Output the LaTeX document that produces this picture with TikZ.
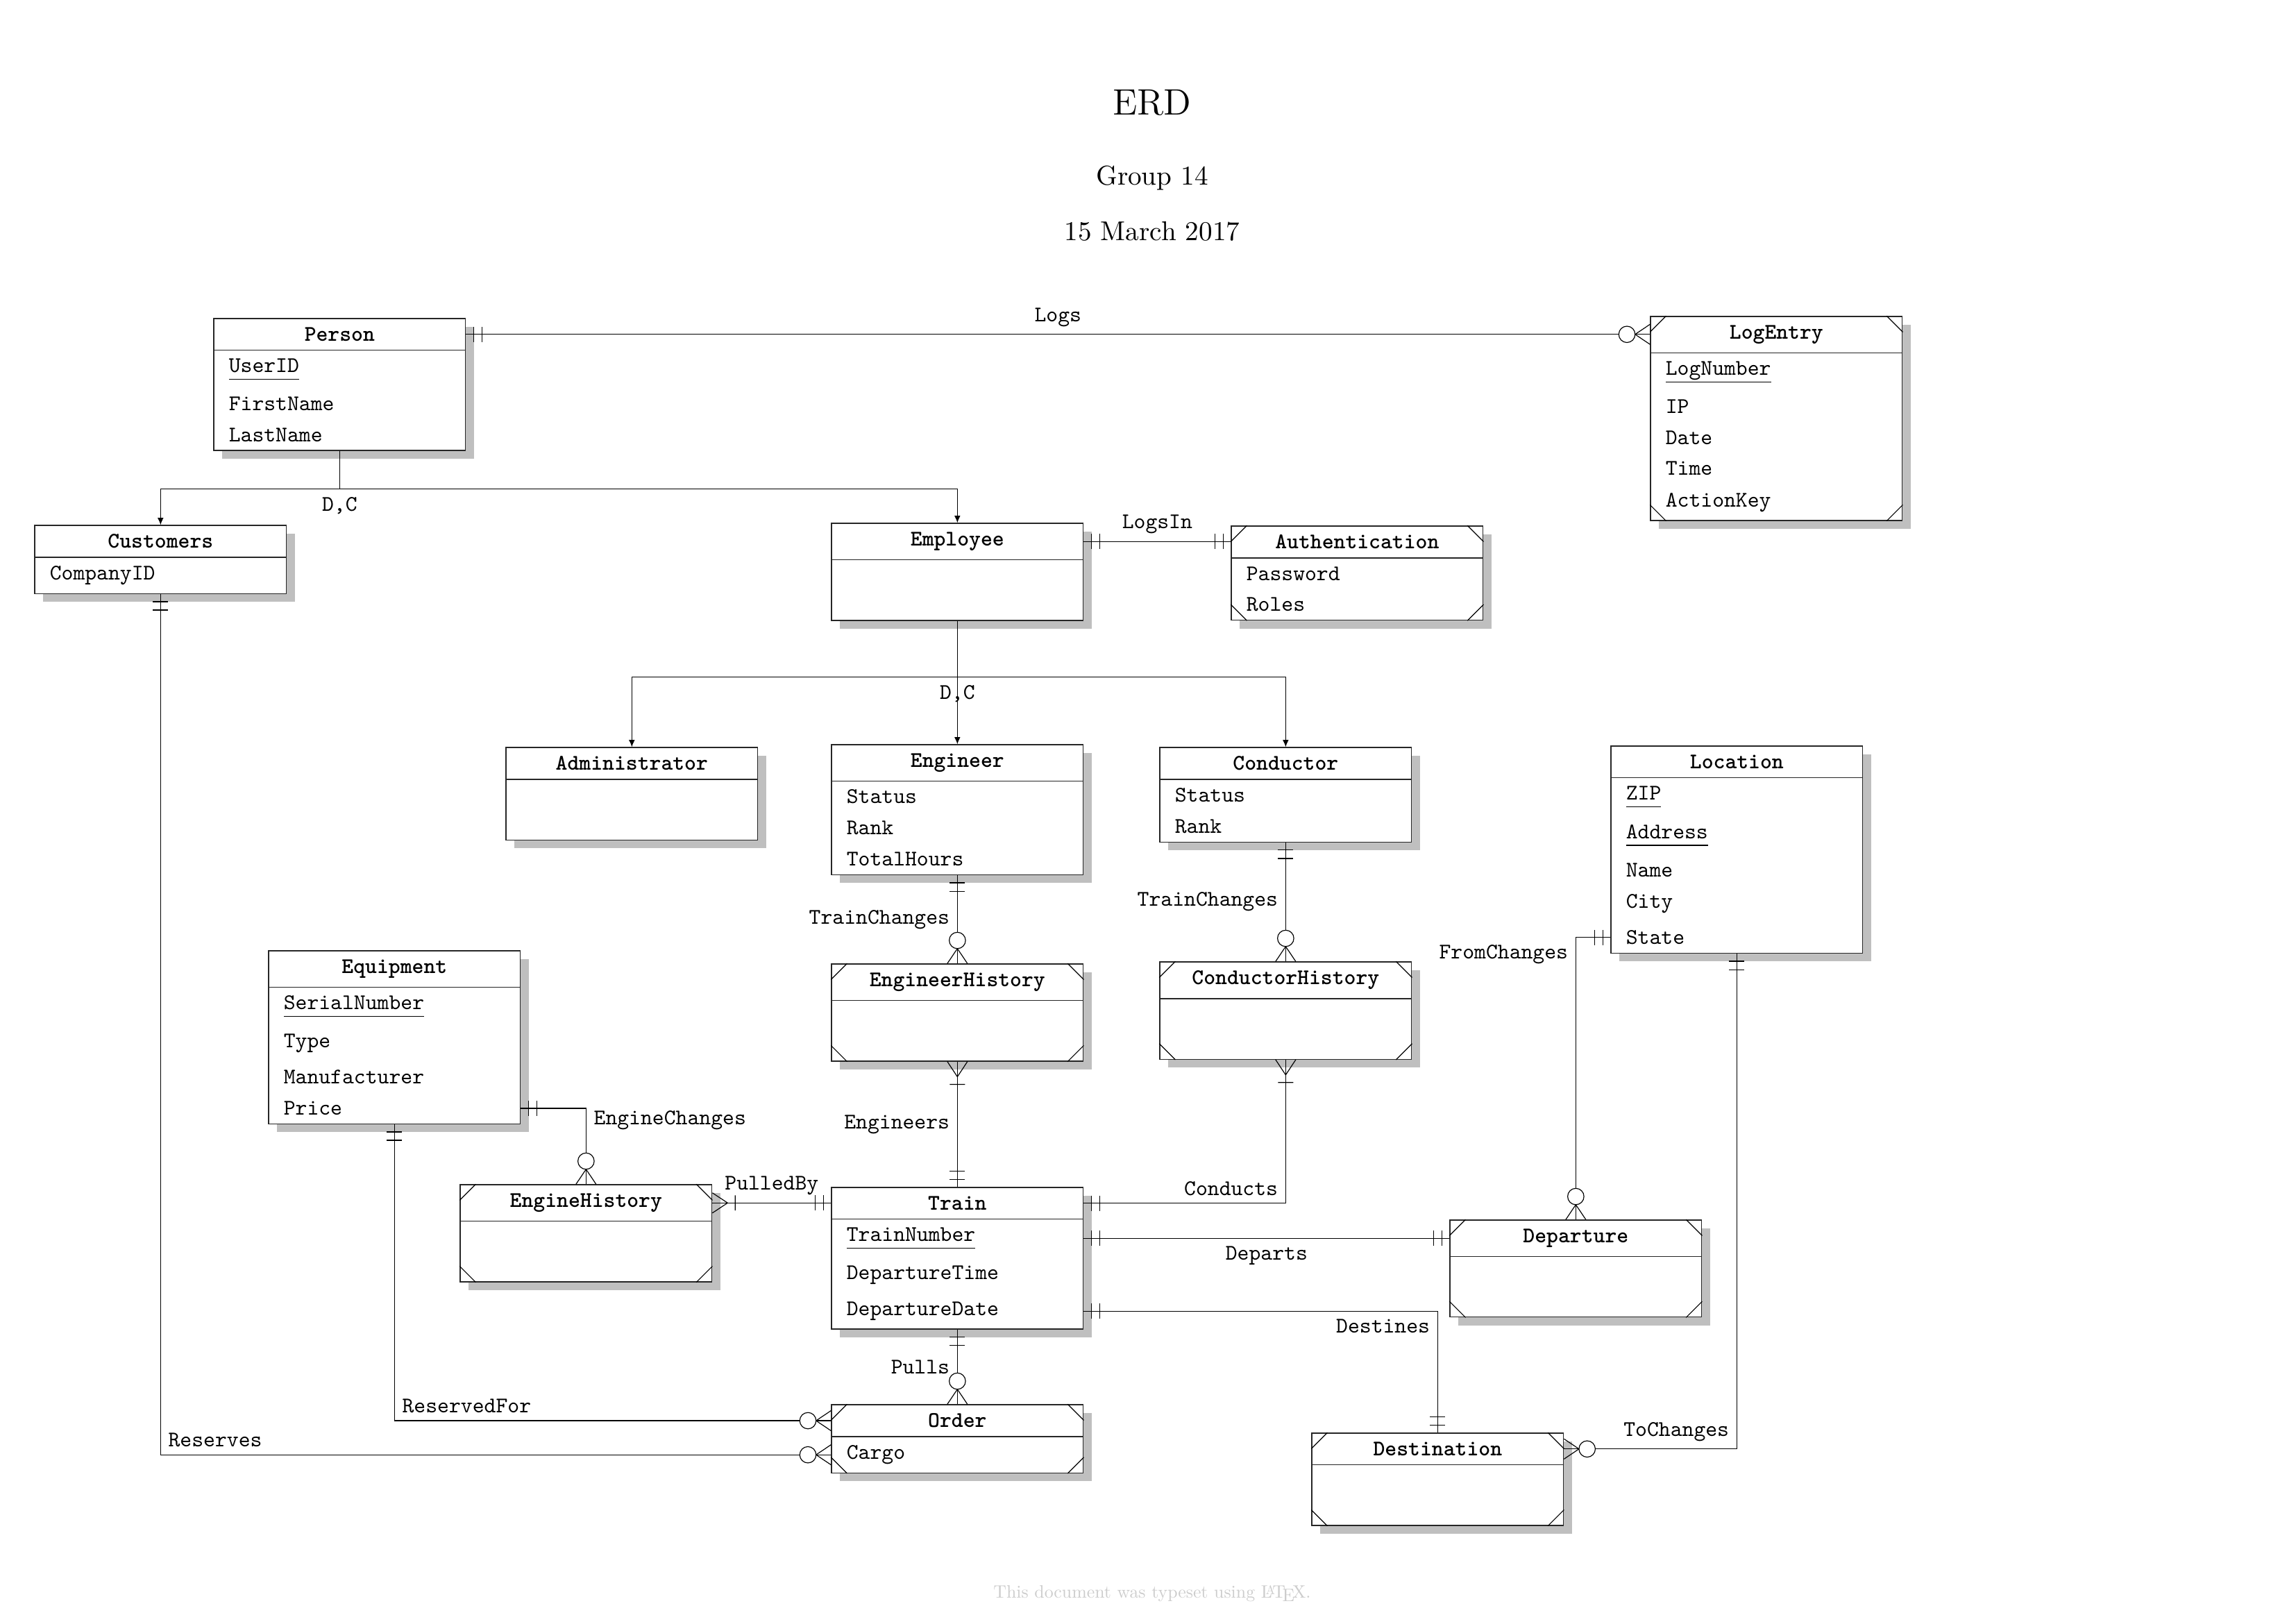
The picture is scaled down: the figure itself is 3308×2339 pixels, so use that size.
\documentclass[tikz,border=0pt]{standalone}
\usepackage{fontspec}
\newfontfamily\erfont{lmmono10-regular.otf}
\newfontfamily\erbold{lmmonolt10-bold.otf}
\newfontfamily\footfont{lmroman10-regular.otf}
\usetikzlibrary{positioning,fit,shadows,backgrounds,arrows.meta,decorations.markings}

\newcommand{\keyattr}[1]{\setbox0=\hbox{#1}\rlap{\rule[-2.7pt]{\wd0}{0.4pt}}\box0}

\tikzset{
  ent/.style={minimum width=3.24cm, inner xsep=0pt, inner ysep=3.08pt, anchor=north west, font=\erbold\fontsize{8.2}{10}\selectfont},
  attr/.style={inner xsep=5.36pt, inner ysep=2.98pt, font=\erfont\fontsize{8.2}{10}\selectfont},
  row/.style={attr, below=0pt of #1.south west, anchor=north west},
  nobody/.style={minimum height=0.77cm},
  entbox/.style={draw=black!85, line width=0.35pt, fill=white, inner sep=0pt, drop shadow={shadow xshift=3.07pt, shadow yshift=-3.07pt, fill=black!25, opacity=1}},
  sep/.style={draw=black!85, line width=0.35pt},
  corner/.style={line width=0.3pt},
  lbl/.style={inner sep=2.73pt, font=\erfont\fontsize{8.2}{10}\selectfont},
  conn/.style={line width=0.3pt},
  isa/.style={conn, -{Latex[length=2.6pt, width=2.2pt]}},
  one start/.style={postaction={decorate, decoration={markings, mark=at position 0 with {\draw[conn] (2.8pt,-2.8pt) -- (2.8pt,2.8pt) (5.9pt,-2.8pt) -- (5.9pt,2.8pt);}}}},
  one end/.style={postaction={decorate, decoration={markings, mark=at position 1 with {\draw[conn] (-2.8pt,-2.8pt) -- (-2.8pt,2.8pt) (-5.9pt,-2.8pt) -- (-5.9pt,2.8pt);}}}},
  omany start/.style={postaction={decorate, decoration={markings, mark=at position 0 with {\draw[conn] (0pt,3.7pt) -- (5.6pt,0pt) -- (0pt,-3.7pt) (8.4pt,-2.8pt) -- (8.4pt,2.8pt);}}}},
  zmany end/.style={postaction={decorate, decoration={markings, mark=at position 1 with {\draw[conn] (0pt,3.7pt) -- (-5.5pt,0pt) -- (0pt,-3.7pt); \draw[conn, fill=white] (-8.5pt,0pt) circle (3pt);}}}}
}

\begin{document}
\begin{tikzpicture}[x=0.0089782cm, y=-0.0089782cm]
\useasboundingbox (0,0) rectangle (3308,2339);

% title block
\node[anchor=base, font=\fontsize{13.5}{16}\selectfont] (erd) at (1660,165) {ERD};
\node[anchor=base, font=\fontsize{10}{12}\selectfont] (group) at (1660,266) {Group 14};
\node[anchor=base, font=\fontsize{10}{12}\selectfont] (date) at (1660,346) {15 March 2017};

% entities
\node[ent] (person-h) at (308,459) {Person};
\node[row=person-h] (person-1) {\keyattr{UserID}};
\node[row=person-1] (person-2) {FirstName};
\node[row=person-2] (person-3) {LastName};

\node[ent] (logentry-h) at (2378,456) {LogEntry};
\node[row=logentry-h] (logentry-1) {\keyattr{LogNumber}};
\node[row=logentry-1] (logentry-2) {IP};
\node[row=logentry-2] (logentry-3) {Date};
\node[row=logentry-3] (logentry-4) {Time};
\node[row=logentry-4] (logentry-5) {ActionKey};

\node[ent] (customers-h) at (50,757) {Customers};
\node[row=customers-h] (customers-1) {CompanyID};

\node[ent] (employee-h) at (1198,754) {Employee};
\node[row=employee-h, nobody] (employee-1) {};

\node[ent] (authentication-h) at (1774,758) {Authentication};
\node[row=authentication-h] (authentication-1) {Password};
\node[row=authentication-1] (authentication-2) {Roles};

\node[ent] (administrator-h) at (729,1077) {Administrator};
\node[row=administrator-h, nobody] (administrator-1) {};

\node[ent] (engineer-h) at (1198,1073) {Engineer};
\node[row=engineer-h] (engineer-1) {Status};
\node[row=engineer-1] (engineer-2) {Rank};
\node[row=engineer-2] (engineer-3) {TotalHours};

\node[ent] (conductor-h) at (1671,1077) {Conductor};
\node[row=conductor-h] (conductor-1) {Status};
\node[row=conductor-1] (conductor-2) {Rank};

\node[ent] (location-h) at (2321,1075) {Location};
\node[row=location-h] (location-1) {\keyattr{ZIP}};
\node[row=location-1] (location-2) {\keyattr{Address}};
\node[row=location-2] (location-3) {Name};
\node[row=location-3] (location-4) {City};
\node[row=location-4] (location-5) {State};

\node[ent] (equipment-h) at (387,1370) {Equipment};
\node[row=equipment-h] (equipment-1) {\keyattr{SerialNumber}};
\node[row=equipment-1] (equipment-2) {Type};
\node[row=equipment-2] (equipment-3) {Manufacturer};
\node[row=equipment-3] (equipment-4) {Price};

\node[ent] (engineerhistory-h) at (1198,1389) {EngineerHistory};
\node[row=engineerhistory-h, nobody] (engineerhistory-1) {};

\node[ent] (conductorhistory-h) at (1671,1386) {ConductorHistory};
\node[row=conductorhistory-h, nobody] (conductorhistory-1) {};

\node[ent] (enginehistory-h) at (663,1707) {EngineHistory};
\node[row=enginehistory-h, nobody] (enginehistory-1) {};

\node[ent] (train-h) at (1198,1711) {Train};
\node[row=train-h] (train-1) {\keyattr{TrainNumber}};
\node[row=train-1] (train-2) {DepartureTime};
\node[row=train-2] (train-3) {DepartureDate};

\node[ent] (departure-h) at (2089,1758) {Departure};
\node[row=departure-h, nobody] (departure-1) {};

\node[ent] (order-h) at (1198,2024) {Order};
\node[row=order-h] (order-1) {Cargo};

\node[ent] (destination-h) at (1890,2065) {Destination};
\node[row=destination-h, nobody] (destination-1) {};

% boxes with shadows
\begin{scope}[on background layer]
\node[entbox, fit=(person-h)(person-3)] (person) {};
\node[entbox, fit=(logentry-h)(logentry-5)] (logentry) {};
\node[entbox, fit=(customers-h)(customers-1)] (customers) {};
\node[entbox, fit=(employee-h)(employee-1)] (employee) {};
\node[entbox, fit=(authentication-h)(authentication-2)] (authentication) {};
\node[entbox, fit=(administrator-h)(administrator-1)] (administrator) {};
\node[entbox, fit=(engineer-h)(engineer-3)] (engineer) {};
\node[entbox, fit=(conductor-h)(conductor-2)] (conductor) {};
\node[entbox, fit=(location-h)(location-5)] (location) {};
\node[entbox, fit=(equipment-h)(equipment-4)] (equipment) {};
\node[entbox, fit=(engineerhistory-h)(engineerhistory-1)] (engineerhistory) {};
\node[entbox, fit=(conductorhistory-h)(conductorhistory-1)] (conductorhistory) {};
\node[entbox, fit=(enginehistory-h)(enginehistory-1)] (enginehistory) {};
\node[entbox, fit=(train-h)(train-3)] (train) {};
\node[entbox, fit=(departure-h)(departure-1)] (departure) {};
\node[entbox, fit=(order-h)(order-1)] (order) {};
\node[entbox, fit=(destination-h)(destination-1)] (destination) {};
\end{scope}

% header lines
\foreach \e in {person,logentry,customers,employee,authentication,administrator,engineer,conductor,location,equipment,engineerhistory,conductorhistory,enginehistory,train,departure,order,destination}
  \draw[sep] (\e-h.south west) -- (\e-h.south east);

% weak entities
\foreach \e in {logentry,authentication,engineerhistory,conductorhistory,enginehistory,departure,destination,order}
  \draw[corner] ([yshift=-5.9pt]\e.north west) -- ([xshift=5.9pt]\e.north west)
    ([xshift=-5.9pt]\e.north east) -- ([yshift=-5.9pt]\e.north east)
    ([yshift=5.9pt]\e.south west) -- ([xshift=5.9pt]\e.south west)
    ([xshift=-5.9pt]\e.south east) -- ([yshift=5.9pt]\e.south east);

% specialisation
\draw[isa] (person.south) -- ++(0,55) coordinate (pj) -| (employee.north);
\draw[isa] (pj) -| (customers.north);
\node[lbl, below] (dc1) at (pj) {D,C};
\path (employee.south) -- ++(0,81) coordinate (ej);
\draw[isa] (employee.south) -- (engineer.north);
\draw[isa] (ej) -| (administrator.north);
\draw[isa] (ej) -| (conductor.north);
\node[lbl, below] (dc2) at (ej) {D,C};

% relationships
\draw[conn, one start, zmany end] (person.east |- person-h) -- node[lbl, above] {Logs} (logentry.west |- person-h);
\draw[conn, one start, one end] (employee.east |- employee-h) -- node[lbl, above] {LogsIn} (authentication.west |- employee-h);
\draw[conn, one start, zmany end] (engineer.south) -- node[lbl, left] {TrainChanges} (engineerhistory.north);
\draw[conn, one start, zmany end] (conductor.south) -- node[lbl, left] {TrainChanges} (conductorhistory.north);
\draw[conn, omany start, one end] (engineerhistory.south) -- node[lbl, left] {Engineers} (train.north);
\draw[conn, omany start, one end] (conductorhistory.south) |- node[lbl, pos=0.5, above left] {Conducts} (train.east |- train-h);
\draw[conn, one start, zmany end] (equipment.east |- equipment-4) -| node[lbl, pos=0.58, right] {EngineChanges} (enginehistory.north);
\draw[conn, omany start, one end] (enginehistory.east |- enginehistory-h) -- node[lbl, above] {PulledBy} (train.west |- enginehistory-h);
\draw[conn, one start, one end] (train.east |- train-1) -- node[lbl, below] {Departs} (departure.west |- train-1);
\draw[conn, one start, one end] (train.east |- train-3) -| node[lbl, pos=0.5, below left] {Destines} (destination.north);
\draw[conn, one start, zmany end] (location.west |- location-5) -| node[lbl, pos=0.5, below left] {FromChanges} (departure.north);
\draw[conn, one start, zmany end] (location.south) |- node[lbl, pos=0.5, above left] {ToChanges} (destination.east |- destination-h);
\draw[conn, one start, zmany end] (train.south) -- node[lbl, left] {Pulls} (order.north);
\draw[conn, one start, zmany end] (equipment.south) |- node[lbl, pos=0.5, above right] {ReservedFor} (order.west |- order-h);
\draw[conn, one start, zmany end] (customers.south) |- node[lbl, pos=0.5, above right] {Reserves} (order.west |- order-1);

\node[anchor=base, text=black!20, font=\footfont\fontsize{6.6}{8}\selectfont] (typeset) at (1660,2302) {This document was typeset using \LaTeX.};
\end{tikzpicture}
\end{document}
